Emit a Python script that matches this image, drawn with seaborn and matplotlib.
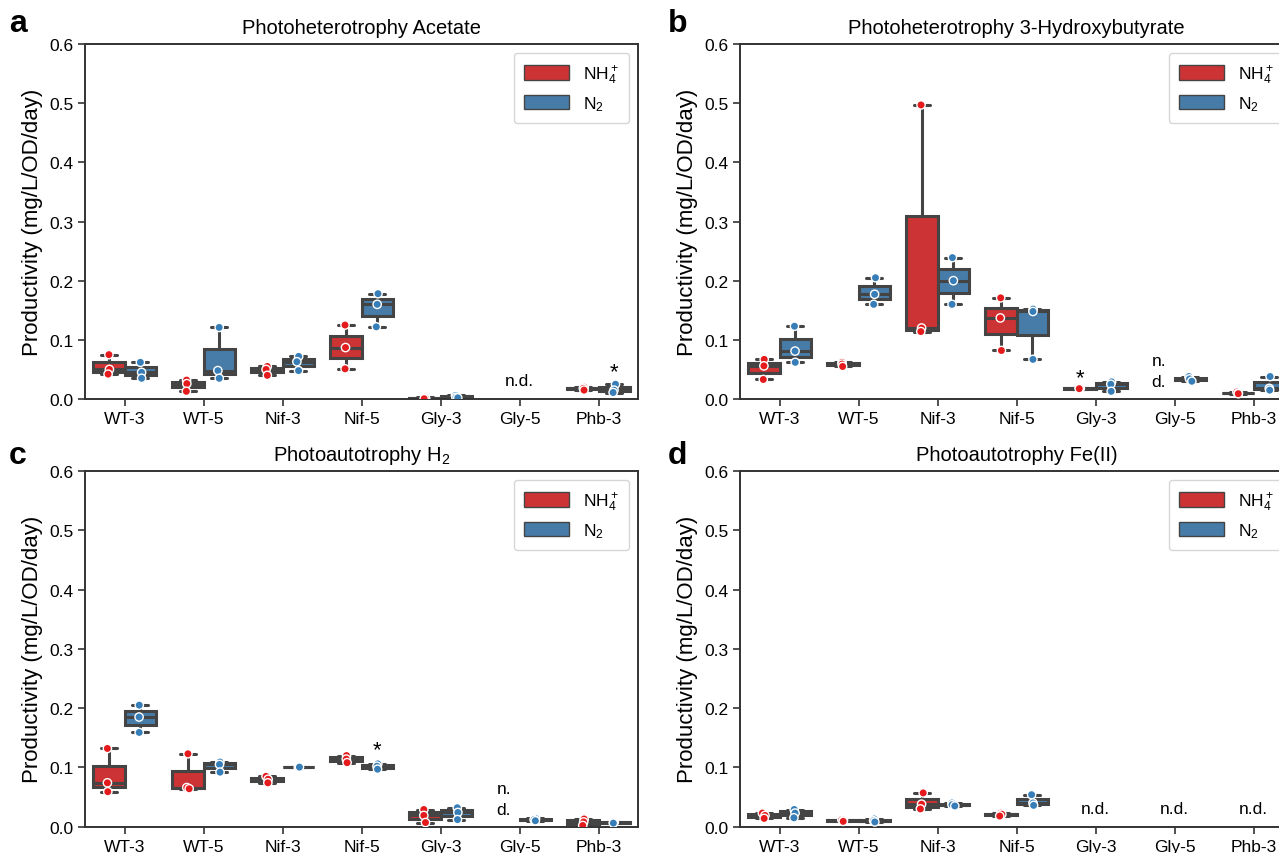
import numpy as np
import pandas as pd
import matplotlib
matplotlib.use('Agg')
import matplotlib.pyplot as plt
from matplotlib.patches import Patch
import seaborn as sns

# strains on the x axis and the two nitrogen sources
strains = ['WT-3', 'WT-5', 'Nif-3', 'Nif-5', 'Gly-3', 'Gly-5', 'Phb-3']
nitrogen = ['NH4', 'N2']
legend_labels = ['NH$_4^+$', 'N$_2$']

# productivity replicates (mg/L/OD/day), [] = not detected
acetate_nh4 = [[0.075, 0.050, 0.042], [0.032, 0.026, 0.013], [0.055, 0.050, 0.040],
               [0.125, 0.087, 0.051], [0.003, 0.001, 0.0005], [], [0.020, 0.018, 0.015]]
acetate_n2 = [[0.062, 0.045, 0.035], [0.121, 0.048, 0.035], [0.072, 0.063, 0.048],
              [0.178, 0.160, 0.122], [0.006, 0.003, 0.002], [], [0.025, 0.015, 0.011]]

hb_nh4 = [[0.067, 0.056, 0.033], [0.062, 0.059, 0.055], [0.497, 0.120, 0.114],
          [0.171, 0.137, 0.082], [0.0185, 0.018, 0.0175], [], [0.012, 0.010, 0.009]]
hb_n2 = [[0.123, 0.081, 0.062], [0.205, 0.177, 0.160], [0.239, 0.200, 0.160],
         [0.152, 0.148, 0.067], [0.029, 0.025, 0.013], [0.038, 0.034, 0.030], [0.038, 0.018, 0.015]]

h2_nh4 = [[0.132, 0.074, 0.059], [0.123, 0.066, 0.064], [0.085, 0.080, 0.074],
          [0.120, 0.114, 0.108], [0.029, 0.019, 0.007], [], [0.013, 0.008, 0.002]]
h2_n2 = [[0.205, 0.185, 0.159], [0.109, 0.105, 0.092], [0.101, 0.100, 0.1005],
         [0.106, 0.102, 0.097], [0.032, 0.024, 0.012], [0.014, 0.012, 0.010], [0.008, 0.007, 0.006]]

fe_nh4 = [[0.023, 0.019, 0.014], [0.012, 0.011, 0.009], [0.057, 0.038, 0.030],
          [0.023, 0.021, 0.018], [], [], []]
fe_n2 = [[0.029, 0.023, 0.015], [0.013, 0.010, 0.008], [0.040, 0.037, 0.035],
         [0.054, 0.040, 0.036], [], [], []]

titles = ['Photoheterotrophy Acetate', 'Photoheterotrophy 3-Hydroxybutyrate',
          'Photoautotrophy H$_2$', 'Photoautotrophy Fe(II)']
letters = ['a', 'b', 'c', 'd']

# annotations: (strain, nitrogen source or None for centre, y, text)
notes = [
    [('Gly-5', None, 0.031, 'n.d.'), ('Phb-3', 'N2', 0.047, '*')],
    [('Gly-5', 'NH4', 0.047, 'n.\nd.'), ('Gly-3', 'NH4', 0.036, '*')],
    [('Gly-5', 'NH4', 0.046, 'n.\nd.'), ('Nif-5', 'N2', 0.130, '*')],
    [('Gly-3', None, 0.031, 'n.d.'), ('Gly-5', None, 0.031, 'n.d.'), ('Phb-3', None, 0.031, 'n.d.')],
]


def to_long(nh4, n2):
    rows = []
    for s, a, b in zip(strains, nh4, n2):
        for v in a:
            rows.append((s, 'NH4', v))
        for v in b:
            rows.append((s, 'N2', v))
    return pd.DataFrame(rows, columns=['strain', 'nitrogen', 'value'])


data = [to_long(acetate_nh4, acetate_n2), to_long(hb_nh4, hb_n2),
        to_long(h2_nh4, h2_n2), to_long(fe_nh4, fe_n2)]

sns.set_style('ticks')
plt.rcParams['font.family'] = ['Liberation Sans', 'DejaVu Sans']
plt.rcParams['mathtext.fontset'] = 'custom'
plt.rcParams['mathtext.rm'] = 'Liberation Sans'
plt.rcParams['mathtext.it'] = 'Liberation Sans:italic'
plt.rcParams['text.color'] = 'black'
plt.rcParams['axes.labelcolor'] = 'black'
plt.rcParams['xtick.color'] = 'black'
plt.rcParams['ytick.color'] = 'black'

pal = sns.color_palette('Set1', 2)
box_pal = [sns.desaturate(c, 0.75) for c in pal]
line_c = '#444444'

fig = plt.figure(figsize=(12.79, 8.54), dpi=100)
positions = [[0.0665, 0.5316, 0.4324, 0.4157], [0.5786, 0.5316, 0.4324, 0.4157],
             [0.0665, 0.0308, 0.4324, 0.4165], [0.5786, 0.0308, 0.4324, 0.4165]]
letter_xy = [(0.007, 0.972), (0.522, 0.972), (0.007, 0.466), (0.522, 0.466)]

np.random.seed(3)
for i in range(4):
    ax = fig.add_axes(positions[i])
    df = data[i]
    sns.boxplot(data=df, x='strain', y='value', hue='nitrogen', order=strains,
                hue_order=nitrogen, palette=box_pal, saturation=1, showfliers=False,
                linewidth=2.2, linecolor=line_c, width=0.8, legend=False, ax=ax)
    sns.stripplot(data=df, x='strain', y='value', hue='nitrogen', order=strains,
                  hue_order=nitrogen, palette=pal, dodge=True, jitter=0.04, size=6,
                  edgecolor='white', linewidth=1, legend=False, ax=ax, zorder=3)
    ax.set_ylim(0, 0.6)
    ax.set_xlim(-0.5, 6.5)
    ax.set_yticks(np.arange(0, 0.61, 0.1))
    ax.set_yticklabels([f'{t:.1f}' for t in np.arange(0, 0.61, 0.1)])
    ax.tick_params(labelsize=12.5, width=1.2, length=5, color='#333333')
    for sp in ax.spines.values():
        sp.set_linewidth(1.4)
        sp.set_color('#333333')
    ax.set_xlabel('')
    ax.set_ylabel('Productivity (mg/L/OD/day)', fontsize=16)
    ax.set_title(titles[i], fontsize=14.5, pad=8)
    for s, n, y, t in notes[i]:
        x = strains.index(s)
        if n == 'NH4':
            x -= 0.2
        elif n == 'N2':
            x += 0.2
        fs = 16 if t == '*' else 12.5
        ax.text(x, y, t, ha='center', va='center', fontsize=fs, linespacing=1.5)
    handles = [Patch(facecolor=box_pal[k], edgecolor=line_c, label=legend_labels[k])
               for k in range(2)]
    ax.legend(handles=handles, loc='upper right', fontsize=12.5, frameon=True,
              borderpad=0.6, handlelength=2.6, handleheight=0.9)
    fig.text(*letter_xy[i], letters[i], fontsize=23, fontweight='bold', va='center')

fig.savefig('out.png', dpi=100)
